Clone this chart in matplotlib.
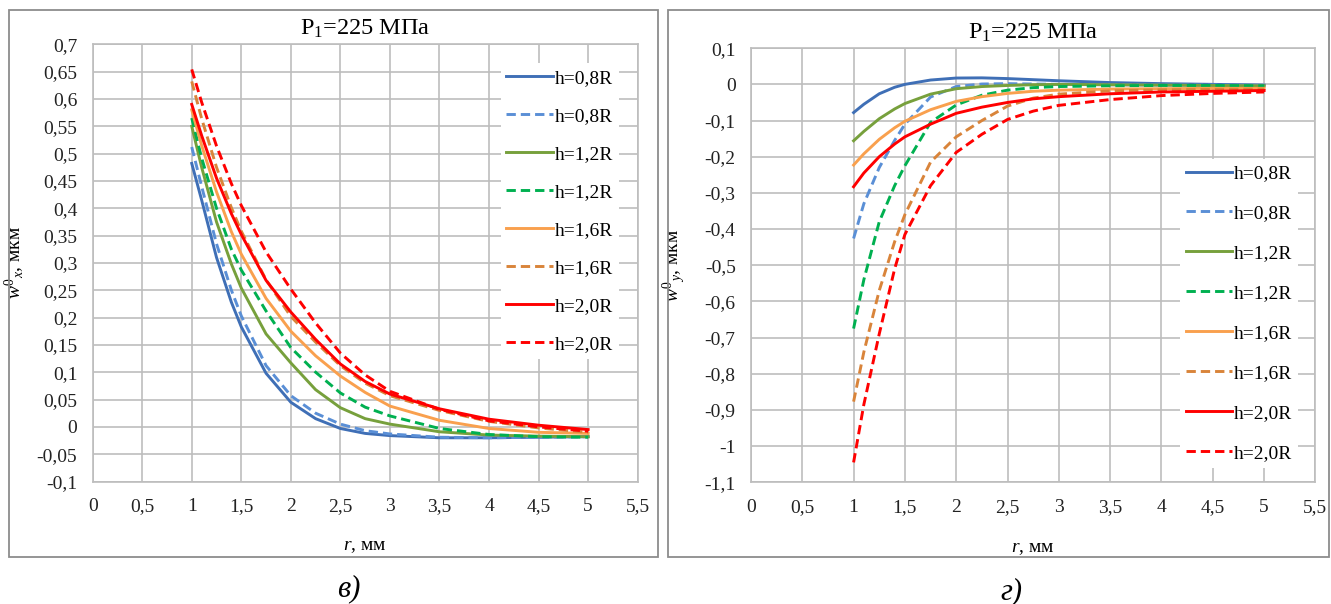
import matplotlib
matplotlib.use("Agg")
import matplotlib.pyplot as plt
from matplotlib.ticker import FuncFormatter, MultipleLocator
from matplotlib.patches import Rectangle

plt.rcParams['font.family'] = ['Liberation Serif', 'DejaVu Serif']
plt.rcParams['mathtext.fontset'] = 'custom'
plt.rcParams['mathtext.rm'] = 'Liberation Serif'
plt.rcParams['mathtext.it'] = 'Liberation Serif:italic'

# radius, mm
r = [1, 1.1, 1.25, 1.4, 1.5, 1.75, 2, 2.25, 2.5, 2.75, 3, 3.5, 4, 4.5, 5]

labels = ["h=0,8R", "h=0,8R", "h=1,2R", "h=1,2R", "h=1,6R", "h=1,6R", "h=2,0R", "h=2,0R"]

# w0x, mkm (left chart)
wx_08 = [0.482, 0.415, 0.31, 0.228, 0.183, 0.098, 0.045, 0.015, -0.003, -0.012, -0.016, -0.02, -0.02, -0.019, -0.018]
wx_08d = [0.512, 0.44, 0.335, 0.25, 0.203, 0.112, 0.057, 0.025, 0.005, -0.007, -0.013, -0.019, -0.02, -0.019, -0.018]
wx_12 = [0.55, 0.475, 0.375, 0.298, 0.254, 0.17, 0.117, 0.068, 0.035, 0.015, 0.005, -0.009, -0.015, -0.017, -0.018]
wx_12d = [0.565, 0.492, 0.40, 0.325, 0.287, 0.212, 0.145, 0.10, 0.062, 0.036, 0.02, -0.003, -0.014, -0.018, -0.019]
wx_16 = [0.58, 0.515, 0.43, 0.357, 0.316, 0.235, 0.175, 0.13, 0.093, 0.063, 0.038, 0.012, -0.003, -0.01, -0.012]
wx_16d = [0.632, 0.564, 0.475, 0.401, 0.358, 0.269, 0.202, 0.155, 0.112, 0.08, 0.057, 0.03, 0.01, -0.002, -0.01]
wx_20 = [0.59, 0.533, 0.455, 0.39, 0.352, 0.268, 0.21, 0.16, 0.115, 0.083, 0.06, 0.033, 0.014, 0.003, -0.005]
wx_20d = [0.654, 0.594, 0.514, 0.445, 0.405, 0.32, 0.252, 0.19, 0.135, 0.095, 0.065, 0.032, 0.011, 0.0, -0.008]

# w0y, mkm (right chart)
wy_08 = [-0.078, -0.055, -0.026, -0.008, 0.0, 0.012, 0.0175, 0.018, 0.016, 0.013, 0.01, 0.005, 0.002, 0.0, -0.002]
wy_08d = [-0.426, -0.33, -0.23, -0.155, -0.11, -0.035, -0.006, 0.001, 0.002, 0.001, 0.0, -0.001, -0.002, -0.002, -0.003]
wy_12 = [-0.156, -0.13, -0.095, -0.068, -0.053, -0.027, -0.012, -0.006, -0.003, -0.001, 0.0, -0.001, -0.002, -0.003, -0.004]
wy_12d = [-0.675, -0.54, -0.38, -0.28, -0.225, -0.105, -0.057, -0.03, -0.016, -0.009, -0.006, -0.004, -0.003, -0.003, -0.004]
wy_16 = [-0.223, -0.192, -0.152, -0.12, -0.102, -0.07, -0.047, -0.034, -0.025, -0.019, -0.016, -0.013, -0.012, -0.011, -0.011]
wy_16d = [-0.877, -0.74, -0.57, -0.435, -0.36, -0.215, -0.145, -0.1, -0.06, -0.038, -0.027, -0.018, -0.015, -0.014, -0.013]
wy_20 = [-0.283, -0.245, -0.2, -0.165, -0.145, -0.11, -0.08, -0.063, -0.05, -0.04, -0.034, -0.026, -0.021, -0.019, -0.017]
wy_20d = [-1.045, -0.885, -0.69, -0.51, -0.415, -0.28, -0.188, -0.138, -0.097, -0.074, -0.058, -0.042, -0.031, -0.025, -0.021]

colors = ["#3f6fb6", "#5a8fd6", "#77a03c", "#00b050", "#f9a04e", "#d9843a", "#ff0000", "#ff0000"]
GRID = "#bdbdbd"


def comma(v, pos):
    s = "%g" % round(v, 3)
    if s == "-0":
        s = "0"
    return s.replace(".", ",")


def draw(ax, series, ylim, ystep, ylabel):
    for i, y in enumerate(series):
        if i % 2 == 0:
            ax.plot(r, y, color=colors[i], lw=2.1, label=labels[i])
        else:
            ax.plot(r, y, color=colors[i], lw=2.1, dashes=(3.2, 1.7), label=labels[i])
    ax.set_xlim(0, 5.5)
    ax.set_ylim(*ylim)
    ax.xaxis.set_major_locator(MultipleLocator(0.5))
    ax.yaxis.set_major_locator(MultipleLocator(ystep))
    ax.xaxis.set_major_formatter(FuncFormatter(comma))
    ax.yaxis.set_major_formatter(FuncFormatter(comma))
    ax.grid(True, color=GRID, lw=1.2)
    ax.set_axisbelow(True)
    for s in ax.spines.values():
        s.set_color(GRID)
        s.set_linewidth(1.2)
    ax.tick_params(length=0, labelsize=14, colors="#222222")
    ax.tick_params(axis="x", pad=12)
    ax.tick_params(axis="y", pad=11)
    ax.set_title(r"P$_{1}$=225 МПа", fontsize=17.5, pad=7)
    ax.set_xlabel(r"$r$, мм", fontsize=14)
    ax.set_ylabel(ylabel, fontsize=14)


fig = plt.figure(figsize=(13.31, 6.04), dpi=100)

# panel frames
fig.patches.append(Rectangle((0.0068, 0.0778), 0.4876, 0.9056, transform=fig.transFigure,
                             fill=False, edgecolor="#8c8c8c", lw=1.3))
fig.patches.append(Rectangle((0.5019, 0.0778), 0.4966, 0.9063, transform=fig.transFigure,
                             fill=False, edgecolor="#8c8c8c", lw=1.3))

ax1 = fig.add_axes([0.0696, 0.2028, 0.4095, 0.7239])
draw(ax1, [wx_08, wx_08d, wx_12, wx_12d, wx_16, wx_16d, wx_20, wx_20d],
     (-0.1, 0.7), 0.05, r"$w^{0}{}_{x}$, мкм")
ax1.xaxis.set_label_coords(0.5, -0.13)
ax1.yaxis.set_label_coords(-0.12, 0.5)
leg1 = ax1.legend(loc="center", bbox_to_anchor=(0.4207, 0.6507), bbox_transform=fig.transFigure,
                  fontsize=14, frameon=True, framealpha=1, edgecolor="none", fancybox=False,
                  handlelength=2.4, handletextpad=0.1, labelspacing=1.05, borderpad=0.3)

ax2 = fig.add_axes([0.5642, 0.2015, 0.4241, 0.7187])
draw(ax2, [wy_08, wy_08d, wy_12, wy_12d, wy_16, wy_16d, wy_20, wy_20d],
     (-1.1, 0.1), 0.1, r"$w^{0}{}_{y}$, мкм")
ax2.xaxis.set_label_coords(0.5, -0.133)
ax2.yaxis.set_label_coords(-0.112, 0.5)
leg2 = ax2.legend(loc="center", bbox_to_anchor=(0.9309, 0.4811), bbox_transform=fig.transFigure,
                  fontsize=14, frameon=True, framealpha=1, edgecolor="none", fancybox=False,
                  handlelength=2.4, handletextpad=0.1, labelspacing=1.15, borderpad=0.3)

fig.text(0.262, 0.025, "в)", fontsize=22, style="italic", ha="center", va="center")
fig.text(0.760, 0.020, "г)", fontsize=22, style="italic", ha="center", va="center")

fig.savefig("out.png", dpi=100)
